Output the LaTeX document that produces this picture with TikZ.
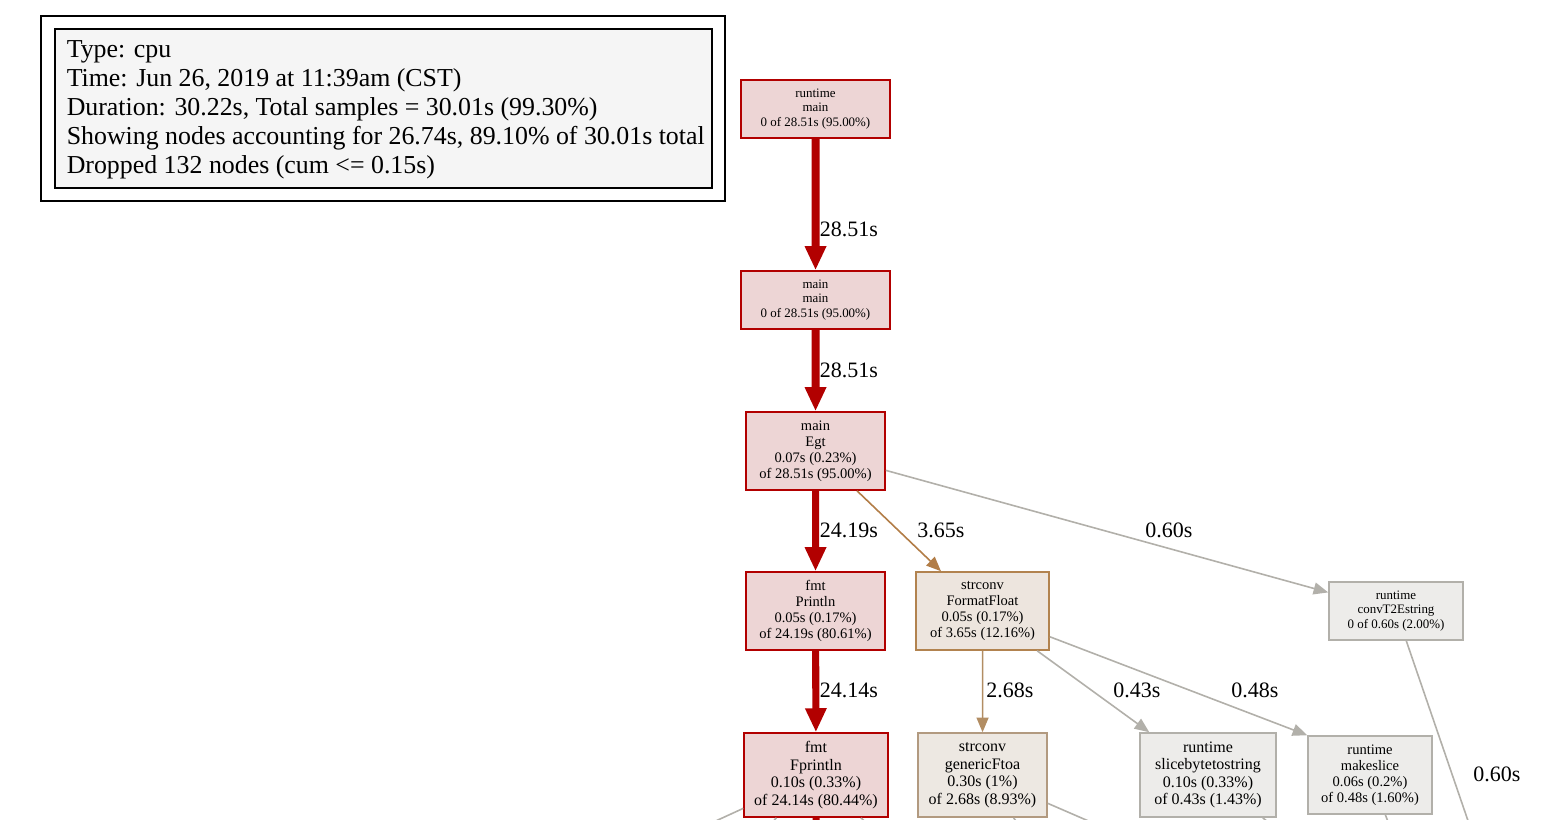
\documentclass[tikz,border=0pt]{standalone}
\usepackage{fontspec}
\setmainfont{Liberation Serif}
\usepackage{tikz}
\usetikzlibrary{arrows.meta}
\definecolor{hotred}{HTML}{B20000}
\definecolor{hotfill}{HTML}{EDD5D5}
\definecolor{ffdraw}{HTML}{B2834F}
\definecolor{fffill}{HTML}{EDE5DE}
\definecolor{gfdraw}{HTML}{B29A80}
\definecolor{gffill}{HTML}{EDE8E2}
\definecolor{cold}{HTML}{B2B0AA}
\definecolor{coldfill}{HTML}{EDECEA}
\definecolor{ffedge}{HTML}{B27D47}
\definecolor{gfedge}{HTML}{B28D63}
\definecolor{legfill}{HTML}{F5F5F5}
\tikzset{
  fn/.style={rectangle, line width=1.2pt, align=center, inner sep=0pt, text=black},
  fsmall/.style={font=\fontsize{9.7}{10.9}\selectfont},
  fmid/.style={font=\fontsize{10.9}{12}\selectfont},
  fbig/.style={font=\fontsize{12}{13.1}\selectfont},
  hot/.style={draw=hotred, fill=hotfill},
  warm/.style={draw=ffdraw, fill=fffill},
  tan/.style={draw=gfdraw, fill=gffill},
  coldnode/.style={draw=cold, fill=coldfill},
  hotedge/.style={draw=hotred, line width=6pt, -{Triangle[length=18pt,width=15pt]}},
  thinedge/.style={line width=1.2pt, -{Triangle[length=11pt,width=9pt]}},
  elabel/.style={font=\fontsize{16.5}{18}\selectfont, inner sep=0pt}
}
\begin{document}
\begin{tikzpicture}[scale=0.75]
\useasboundingbox (0pt,0pt) rectangle (1565pt,-819pt);
\clip (0pt,0pt) rectangle (1565pt,-819pt);
% legend
\draw [line width=1.5pt] (41pt,-16pt) rectangle (725pt,-201pt);
\node (legend) [rectangle, draw=black, fill=legfill, line width=1.5pt, minimum width=492.75pt, minimum height=119.25pt] at (383.5pt,-108.5pt) {};
\node (legendtxt) [anchor=west, align=left, inner sep=0pt, font=\fontsize{19.4}{21.75}\selectfont] at ([xshift=12.5pt,yshift=-1.5pt]legend.west) {Type: cpu\\Time: Jun 26, 2019 at 11:39am (CST)\\Duration: 30.22s, Total samples = 30.01s (99.30\%)\\Showing nodes accounting for 26.74s, 89.10\% of 30.01s total\\Dropped 132 nodes (cum <= 0.15s)};
% nodes
\node (rtmain) [fn, hot, fsmall, minimum width=111.75pt, minimum height=43.5pt] at (815.5pt,-109pt) {runtime\\main\\0 of 28.51s (95.00\%)};
\node (mainmain) [fn, hot, fsmall, minimum width=111.75pt, minimum height=43.5pt] at (815.5pt,-300pt) {main\\main\\0 of 28.51s (95.00\%)};
\node (egt) [fn, hot, fmid, minimum width=104.25pt, minimum height=58.5pt] at (815.5pt,-451pt) {main\\Egt\\0.07s (0.23\%)\\of 28.51s (95.00\%)};
\node (println) [fn, hot, fmid, minimum width=104.25pt, minimum height=58.5pt] at (815.5pt,-611pt) {fmt\\Println\\0.05s (0.17\%)\\of 24.19s (80.61\%)};
\node (fmtfloat) [fn, warm, fmid, minimum width=99.75pt, minimum height=58.5pt] at (982.5pt,-611pt) {strconv\\FormatFloat\\0.05s (0.17\%)\\of 3.65s (12.16\%)};
\node (convt2e) [fn, coldnode, fsmall, minimum width=100.5pt, minimum height=43.5pt] at (1396pt,-611pt) {runtime\\convT2Estring\\0 of 0.60s (2.00\%)};
\node (fprintln) [fn, hot, fbig, minimum width=108pt, minimum height=63pt] at (816pt,-775pt) {fmt\\Fprintln\\0.10s (0.33\%)\\of 24.14s (80.44\%)};
\node (genftoa) [fn, tan, fbig, minimum width=96.75pt, minimum height=63pt] at (982.5pt,-775pt) {strconv\\genericFtoa\\0.30s (1\%)\\of 2.68s (8.93\%)};
\node (slicebts) [fn, coldnode, fbig, minimum width=102pt, minimum height=63pt] at (1208pt,-775pt) {runtime\\slicebytetostring\\0.10s (0.33\%)\\of 0.43s (1.43\%)};
\node (makeslice) [fn, coldnode, fmid, minimum width=93pt, minimum height=58.5pt] at (1370pt,-775pt) {runtime\\makeslice\\0.06s (0.2\%)\\of 0.48s (1.60\%)};
% ends of edges that leave the picture
\coordinate (out1) at (600pt,-874pt);
\coordinate (out2) at (740pt,-857pt);
\coordinate (out3) at (900pt,-855pt);
\coordinate (out4) at (816pt,-870pt);
\coordinate (out5) at (1130pt,-839pt);
\coordinate (out6) at (1045pt,-861pt);
\coordinate (out7) at (1300pt,-847pt);
\coordinate (out8) at (1395pt,-840pt);
\coordinate (out9) at (1478pt,-850pt);
% edges
\draw [hotedge] (rtmain) to (mainmain);
\draw [hotedge] (mainmain) to (egt);
\draw [hotedge, line width=5.3pt] (egt) to (println);
\draw [hotedge, line width=5.3pt] (println) to (fprintln);
\draw [thinedge, draw=ffedge] (egt) to (fmtfloat);
\draw [thinedge, draw=cold] (egt) to (convt2e);
\draw [thinedge, draw=gfedge] (fmtfloat) to (genftoa);
\draw [thinedge, draw=cold] (fmtfloat) to (slicebts);
\draw [thinedge, draw=cold] (fmtfloat) to (makeslice.north west);
\draw [line width=1.2pt, draw=cold] (convt2e) to (out9);
\draw [line width=1.2pt, draw=cold] (fprintln) to (out1);
\draw [line width=1.2pt, draw=cold] (fprintln) to (out2);
\draw [line width=1.2pt, draw=cold] (fprintln) to (out3);
\draw [draw=hotred, line width=5.3pt] (fprintln) to (out4);
\draw [line width=1.2pt, draw=cold] (genftoa) to (out5);
\draw [line width=1.2pt, draw=cold] (genftoa) to (out6);
\draw [line width=1.2pt, draw=cold] (slicebts) to (out7);
\draw [line width=1.2pt, draw=cold] (makeslice) to (out8);
% edge labels
\node (l1) [elabel] at (849pt,-229pt) {28.51s};
\node (l2) [elabel] at (849pt,-370pt) {28.51s};
\node (l3) [elabel] at (849pt,-530pt) {24.19s};
\node (l4) [elabel] at (941pt,-530pt) {3.65s};
\node (l5) [elabel] at (1169pt,-530pt) {0.60s};
\node (l6) [elabel] at (849pt,-690pt) {24.14s};
\node (l7) [elabel] at (1010pt,-690pt) {2.68s};
\node (l8) [elabel] at (1137pt,-690pt) {0.43s};
\node (l9) [elabel] at (1255pt,-690pt) {0.48s};
\node (l10) [elabel] at (1497pt,-774pt) {0.60s};
\end{tikzpicture}
\end{document}
